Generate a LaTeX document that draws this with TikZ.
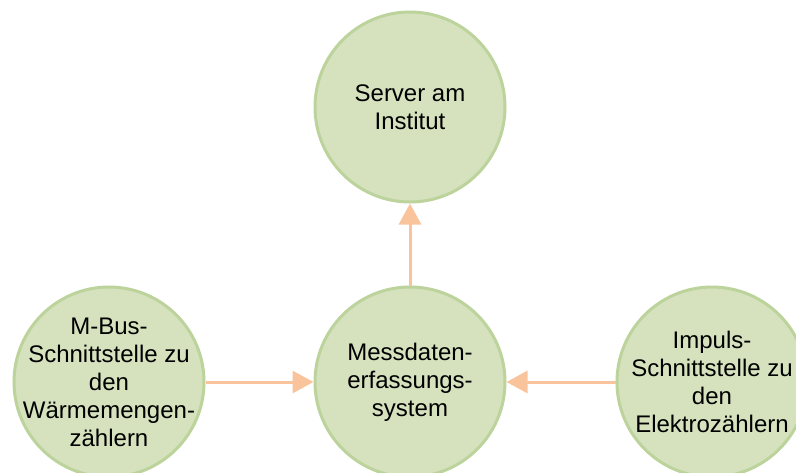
\documentclass[tikz,border=0pt]{standalone}
\usepackage{fontspec}
\setmainfont{Liberation Sans}
\usetikzlibrary{arrows.meta}
\definecolor{nodefill}{HTML}{D6E2BE}
\definecolor{nodeline}{HTML}{BCD39C}
\definecolor{flowline}{HTML}{F9C39C}
\tikzset{
  % negative inner sep keeps long labels from enlarging the circle
  unit/.style={circle, draw=nodeline, fill=nodefill, line width=3pt,
    minimum size=190pt, inner sep=-30pt, align=center,
    font=\fontsize{24}{28}\selectfont},
  flow/.style={draw=flowline, line width=3pt,
    -{Triangle[length=21pt,width=22pt]}}
}
\begin{document}
\begin{tikzpicture}[x=1pt,y=-1pt]
  \useasboundingbox (0,0) rectangle (796,472);
  \node[unit] (server) at (410,107) {Server am\\Institut};
  \node[unit] (mde) at (410,382) {Messdaten-\\erfassungs-\\system};
  \node[unit] (mbus) at (109,382) {M-Bus-\\Schnittstelle zu\\den\\Wärmemengen-\\zählern};
  \node[unit] (impuls) at (712,382) {Impuls-\\Schnittstelle zu\\den\\Elektrozählern};
  \draw[flow] (mde) -- (server);
  \draw[flow] (mbus) -- (mde);
  \draw[flow] (impuls) -- (mde);
\end{tikzpicture}
\end{document}
